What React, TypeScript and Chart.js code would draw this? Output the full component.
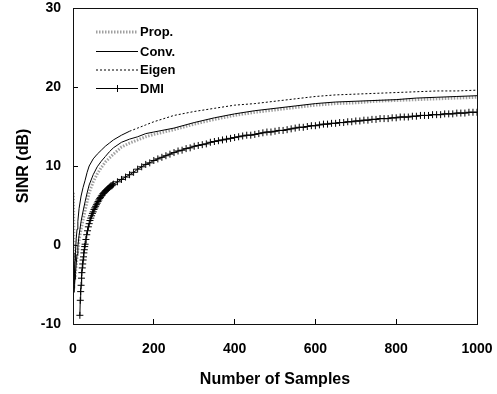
import React, { useEffect, useRef } from "react";
import { Chart, registerables } from "chart.js";

Chart.register(...registerables);

// Sample grid shared by Prop., Conv. and Eigen
const samples = [1, 2, 3, 4, 5, 6, 8, 10, 12, 15, 20, 25, 30, 35, 40, 50, 60, 70, 80, 90, 100, 120, 140, 160, 180, 200, 250, 300, 350, 400, 450, 500, 550, 600, 650, 700, 750, 800, 850, 900, 950, 1000];

const propValues = [6.6, 2.0, -1.5, -4.4, -4.0, -3.5, -2.5, -1.5, -0.6, 0.6, 2.0, 3.2, 4.4, 5.5, 6.6, 8.0, 9.0, 9.8, 10.5, 11.0, 11.5, 12.4, 12.9, 13.3, 13.7, 14.0, 14.6, 15.3, 15.9, 16.4, 16.8, 17.1, 17.4, 17.7, 17.9, 18.0, 18.2, 18.3, 18.4, 18.5, 18.6, 18.7];

const convValues = [-3.0, -6.0, -5.5, -5.0, -4.3, -3.6, -2.4, -1.2, -0.2, 1.2, 3.0, 4.3, 5.5, 6.6, 7.6, 8.9, 9.9, 10.6, 11.2, 11.8, 12.3, 13.0, 13.4, 13.7, 14.1, 14.3, 14.8, 15.5, 16.1, 16.6, 17.0, 17.3, 17.6, 17.9, 18.1, 18.2, 18.3, 18.4, 18.6, 18.7, 18.8, 18.9];

const eigenValues = [-1.0, -5.0, -4.0, -3.0, -2.0, -1.0, 0.8, 2.0, 3.0, 4.6, 6.2, 7.3, 8.2, 9.2, 10.0, 10.9, 11.5, 12.0, 12.5, 12.9, 13.3, 13.9, 14.4, 14.8, 15.2, 15.6, 16.4, 16.9, 17.3, 17.7, 17.9, 18.2, 18.5, 18.8, 19.0, 19.1, 19.2, 19.3, 19.4, 19.5, 19.5, 19.6];

// DMI sample grid and values
const dmiSamples = [
  17, 18, 19, 20, 21, 22, 23, 24, 25, 26, 27, 28, 29, 30,
  32, 34, 36, 38, 40, 42, 44, 46, 48, 50, 52, 54, 56, 58, 60, 62, 64, 66, 68, 70,
  72, 74, 76, 78, 80, 82, 84, 86, 88, 90, 92, 94, 96, 98, 100,
  110, 120, 130, 140, 150, 160, 170, 180, 190, 200, 210, 220, 230, 240, 250, 260, 270, 280, 290, 300,
  310, 320, 330, 340, 350, 360, 370, 380, 390, 400, 410, 420, 430, 440, 450, 460, 470, 480, 490, 500,
  510, 520, 530, 540, 550, 560, 570, 580, 590, 600, 610, 620, 630, 640, 650, 660, 670, 680, 690, 700,
  710, 720, 730, 740, 750, 760, 770, 780, 790, 800, 810, 820, 830, 840, 850, 860, 870, 880, 890, 900,
  910, 920, 930, 940, 950, 960, 970, 980, 990, 1000,
];
const dmiValues = [
  -8.9, -7.0, -5.9, -5.1, -4.2, -3.5, -2.9, -2.4, -1.9, -1.5, -1.0, -0.6, -0.2, 0.1,
  0.7, 1.3, 1.8, 2.3, 2.7, 3.1, 3.4, 3.7, 4.0, 4.2, 4.5, 4.7, 4.9, 5.1, 5.3, 5.5, 5.7, 5.9, 6.0, 6.2,
  6.3, 6.5, 6.6, 6.7, 6.8, 6.9, 7.0, 7.1, 7.2, 7.3, 7.4, 7.5, 7.5, 7.6, 7.7,
  8.0, 8.3, 8.6, 8.9, 9.2, 9.6, 9.9, 10.2, 10.4, 10.7, 10.9, 11.1, 11.3, 11.5, 11.7, 11.9, 12.0, 12.2, 12.3, 12.5,
  12.6, 12.7, 12.8, 13.0, 13.1, 13.2, 13.3, 13.4, 13.5, 13.6, 13.7, 13.8, 13.9, 13.9, 14.0, 14.1, 14.2, 14.3, 14.3, 14.4,
  14.5, 14.5, 14.6, 14.7, 14.8, 14.9, 14.9, 15.0, 15.1, 15.1, 15.2, 15.3, 15.3, 15.4, 15.4, 15.5, 15.5, 15.6, 15.6, 15.7,
  15.7, 15.8, 15.8, 15.9, 15.9, 16.0, 16.0, 16.0, 16.1, 16.1, 16.2, 16.2, 16.2, 16.3, 16.3, 16.4, 16.4, 16.4, 16.5, 16.5,
  16.5, 16.6, 16.6, 16.6, 16.7, 16.7, 16.7, 16.8, 16.8, 16.8,
];

const seriesNames = ["Prop.", "Conv.", "Eigen", "DMI"];
const xTickRange = [0, 1000, 200];
const yTickRange = [-10, 30, 10];

const FONT = "'Liberation Sans', Arial, Helvetica, sans-serif";

const toPoints = (xs: number[], ys: number[]) => xs.map((x, i) => ({ x, y: ys[i] }));

const framePlugin = {
  id: "frame",
  afterDraw(chart: any) {
    const { ctx, chartArea } = chart;
    ctx.save();
    ctx.strokeStyle = "#111";
    ctx.lineWidth = 1;
    ctx.setLineDash([]);
    ctx.strokeRect(
      Math.round(chartArea.left) + 0.5,
      Math.round(chartArea.top) + 0.5,
      Math.round(chartArea.right - chartArea.left),
      Math.round(chartArea.bottom - chartArea.top)
    );
    ctx.restore();
  },
};

const legendPlugin = {
  id: "customLegend",
  afterDatasetsDraw(chart: any) {
    const ctx = chart.ctx;
    const x0 = 96;
    const x1 = 138;
    const rows = [32, 51.5, 70, 88.5];
    ctx.save();
    chart.data.datasets.forEach((ds: any) => {
      const idx = seriesNames.indexOf(ds.label);
      const y = rows[idx];
      ctx.beginPath();
      ctx.strokeStyle = ds.borderColor;
      ctx.lineWidth = ds.borderWidth;
      ctx.setLineDash(ds.legendDash || []);
      ctx.moveTo(x0, y);
      ctx.lineTo(x1, y);
      ctx.stroke();
      ctx.setLineDash([]);
      if (ds.pointRadius > 0) {
        ctx.beginPath();
        ctx.lineWidth = 1;
        ctx.strokeStyle = "#000";
        const cx = 117.5;
        ctx.moveTo(cx, y - 3.5);
        ctx.lineTo(cx, y + 3.5);
        ctx.moveTo(cx - 3.5, y);
        ctx.lineTo(cx + 3.5, y);
        ctx.stroke();
      }
      ctx.fillStyle = "#000";
      ctx.font = `bold 13px ${FONT}`;
      ctx.textBaseline = "middle";
      ctx.textAlign = "left";
      ctx.fillText(ds.label, 140, y + 0.5);
    });
    ctx.restore();
  },
};

export default function App() {
  const canvasRef = useRef<HTMLCanvasElement | null>(null);

  useEffect(() => {
    document.body.style.margin = "0";
    const canvas = canvasRef.current;
    if (!canvas) return;
    const chart = new Chart(canvas, {
      type: "line",
      data: {
        datasets: [
          {
            label: seriesNames[1],
            data: toPoints(samples, convValues),
            borderColor: "#000",
            borderWidth: 1,
            pointRadius: 0,
            order: 1,
          } as any,
          {
            label: seriesNames[2],
            data: toPoints(samples, eigenValues),
            borderColor: "#000",
            borderWidth: 1,
            pointRadius: 0,
            legendDash: [2, 2],
            segment: {
              borderDash: (c: any) => (c.p1.parsed.x <= 140 ? [] : [2, 2]),
            },
            order: 2,
          } as any,
          {
            label: seriesNames[3],
            data: toPoints(dmiSamples, dmiValues),
            borderColor: "#000",
            borderWidth: 1,
            pointStyle: "cross",
            pointRadius: 3.5,
            pointBorderWidth: 1,
            pointBorderColor: "#000",
            order: 3,
          } as any,
          {
            label: seriesNames[0],
            data: toPoints(samples, propValues),
            borderColor: "#a0a0a0",
            borderWidth: 3,
            borderDash: [1.5, 1.5],
            legendDash: [1.5, 1.5],
            pointRadius: 0,
            order: 4,
          } as any,
        ],
      },
      options: {
        animation: false,
        responsive: false,
        devicePixelRatio: 1,
        layout: { padding: { top: 8, right: 20, left: 0, bottom: 0 } },
        elements: { line: { tension: 0 } },
        plugins: {
          legend: { display: false },
          tooltip: { enabled: false },
        },
        scales: {
          x: {
            type: "linear",
            min: xTickRange[0],
            max: xTickRange[1],
            ticks: {
              stepSize: xTickRange[2],
              color: "#000",
              padding: 22,
              font: { family: FONT, size: 14, weight: "bold" },
              maxRotation: 0,
              callback: (v: any) => String(v),
            },
            grid: { drawOnChartArea: false, tickLength: -5, color: "#000" },
            border: { display: true, color: "#000" },
            title: {
              display: true,
              text: "Number of Samples",
              color: "#000",
              font: { family: FONT, size: 16, weight: "bold" },
              padding: { top: 0, bottom: 4.4 },
            },
            afterFit: (s: any) => {
              s.height = 70;
              s.paddingLeft = 0;
              s.paddingRight = 0;
            },
          },
          y: {
            type: "linear",
            min: yTickRange[0],
            max: yTickRange[1],
            ticks: {
              stepSize: yTickRange[2],
              color: "#000",
              padding: 17,
              font: { family: FONT, size: 14, weight: "bold" },
              callback: (v: any) => String(v),
            },
            grid: { drawOnChartArea: false, tickLength: -5, color: "#000" },
            border: { display: true, color: "#000" },
            title: {
              display: true,
              text: "SINR (dB)",
              color: "#000",
              font: { family: FONT, size: 16, weight: "bold" },
              padding: { top: 14.4, bottom: 0 },
            },
            afterFit: (s: any) => {
              s.width = 73;
              s.paddingTop = 0;
              s.paddingBottom = 0;
            },
          },
        },
      },
      plugins: [framePlugin, legendPlugin],
    });
    return () => chart.destroy();
  }, []);

  return (
    <canvas
      ref={canvasRef}
      width={497}
      height={394}
      style={{ display: "block", width: 497, height: 394 }}
    />
  );
}
